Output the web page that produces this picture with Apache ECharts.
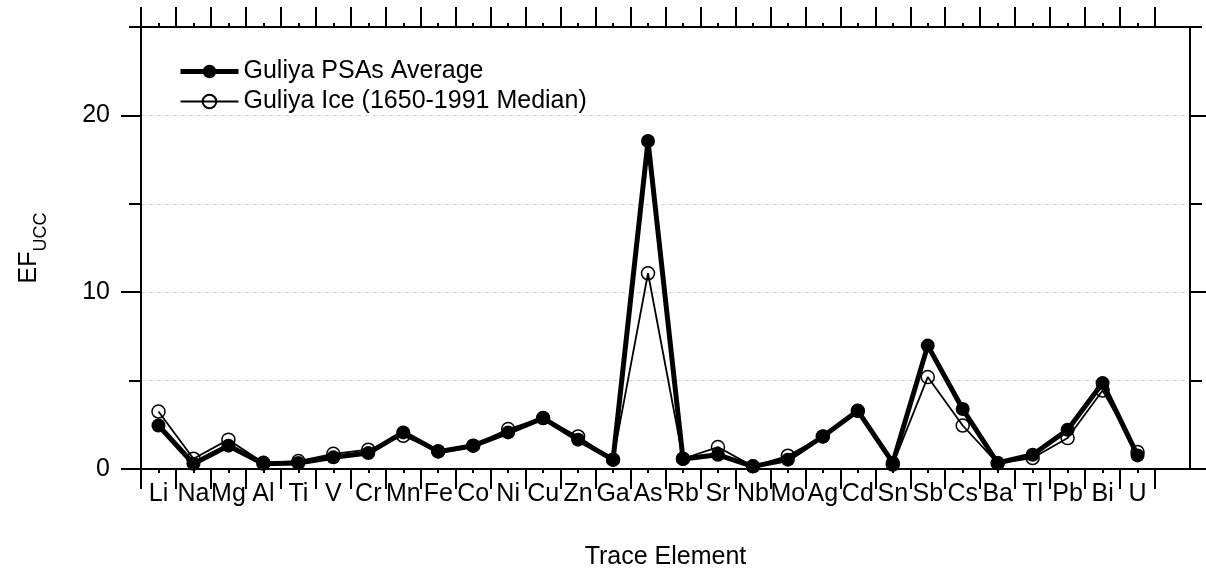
<!DOCTYPE html>
<html>
<head>
<meta charset="utf-8">
<title>Guliya EF_UCC</title>
<script src="https://cdn.jsdelivr.net/npm/echarts@6.0.0/dist/echarts.min.js"></script>
<style>
  html, body { margin: 0; padding: 0; background: #fff; }
  #chart { width: 1206px; height: 575px; }
</style>
</head>
<body>
<div id="chart"></div>
<script>
// 元素(類別)與兩組 EF 值,依圖上讀值估計
const elements = ['Li', 'Na', 'Mg', 'Al', 'Ti', 'V', 'Cr', 'Mn', 'Fe', 'Co', 'Ni', 'Cu', 'Zn', 'Ga', 'As',
  'Rb', 'Sr', 'Nb', 'Mo', 'Ag', 'Cd', 'Sn', 'Sb', 'Cs', 'Ba', 'Tl', 'Pb', 'Bi', 'U'];
const psasAverage = [2.46, 0.3, 1.32, 0.3, 0.34, 0.66, 0.9, 2.07, 0.98, 1.32, 2.07, 2.88, 1.66, 0.53, 18.55,
  0.56, 0.8, 0.15, 0.53, 1.84, 3.29, 0.36, 6.98, 3.39, 0.34, 0.81, 2.22, 4.86, 0.77];
const iceMedian = [3.25, 0.58, 1.66, 0.35, 0.45, 0.86, 1.09, 1.88, 1.0, 1.32, 2.26, 2.88, 1.84, 0.53, 11.07,
  0.58, 1.24, 0.15, 0.75, 1.84, 3.29, 0.25, 5.2, 2.46, 0.32, 0.62, 1.75, 4.44, 0.96];
const yMajorTicks = [0, 10, 20];
const yMinorTicks = [5, 15, 25];

const FONT = 'Liberation Sans, Arial, Helvetica, sans-serif';
const AXIS_LINE = { show: true, onZero: false, lineStyle: { color: '#000', width: 2 } };
const TICK_STYLE = { color: '#000', width: 2 };
const GRID_LINE = { show: true, lineStyle: { color: '#d4d4d4', width: 1, type: [4, 4] } };

// 類別中心 = 索引;邊界 = 索引 ± 0.5(長刻度)
const centers = elements.map((_, i) => i);
const bounds = [-0.5, ...elements.map((_, i) => i + 0.5)];

// x 軸:-0.5 ~ 29.5(右側留一格空白),長刻度在邊界,短刻度在中心
function xAxis(position, ticks, tickLen, withLabels) {
  return {
    type: 'value', position, min: -0.5, max: 29.5,
    axisLine: AXIS_LINE,
    axisTick: { show: true, customValues: ticks, length: tickLen, lineStyle: TICK_STYLE },
    splitLine: { show: false },
    axisLabel: withLabels ? {
      show: true, customValues: centers,
      formatter: (v) => elements[Math.round(v)] ?? '',
      color: '#000', fontSize: 25, fontFamily: FONT, margin: 13,
    } : { show: false },
    name: withLabels ? 'Trace Element' : '', nameLocation: 'middle', nameGap: 76,
    nameTextStyle: { color: '#000', fontSize: 25, fontFamily: FONT },
  };
}

function yAxis(position, ticks, tickLen, withLabels) {
  return {
    type: 'value', position, min: 0, max: 25,
    axisLine: AXIS_LINE,
    axisTick: { show: true, customValues: ticks, length: tickLen, lineStyle: TICK_STYLE },
    splitLine: position === 'left' ? GRID_LINE : { show: false },
    axisLabel: withLabels ? {
      show: true, customValues: ticks, color: '#000', fontSize: 25, fontFamily: FONT, margin: 31,
    } : { show: false },
    name: withLabels ? '{a|EF}{b|UCC}' : '', nameLocation: 'middle', nameGap: 95,
    nameTextStyle: {
      color: '#000', fontFamily: FONT,
      rich: {
        a: { fontSize: 25, lineHeight: 25, padding: [0, 0, 8, 0], color: '#000', fontFamily: FONT },
        b: { fontSize: 18, lineHeight: 18, padding: [15, 0, 0, 0], color: '#000', fontFamily: FONT },
      },
    },
  };
}

const chart = echarts.init(document.getElementById('chart'), null, { renderer: 'canvas' });
chart.setOption({
  animation: false,
  backgroundColor: '#fff',
  textStyle: { fontFamily: FONT },
  grid: { left: 141, right: 16, top: 27, bottom: 106, containLabel: false },
  legend: {
    orient: 'vertical', left: 173, top: 54, itemWidth: 58, itemHeight: 17, itemGap: 5,
    textStyle: { color: '#000', fontSize: 25, fontFamily: FONT },
    data: [
      { name: 'Guliya PSAs Average', lineStyle: { width: 5, color: '#000' } },
      { name: 'Guliya Ice (1650-1991 Median)', lineStyle: { width: 2, color: '#000' } },
    ],
  },
  xAxis: [
    xAxis('bottom', bounds, 20, false),
    xAxis('bottom', centers, 4, true),
    xAxis('top', bounds, 20, false),
    xAxis('top', centers, 4, false),
  ],
  yAxis: [
    yAxis('left', yMajorTicks, 20, true),
    yAxis('left', yMinorTicks, 12, false),
    yAxis('right', yMajorTicks, 20, false),
    yAxis('right', yMinorTicks, 12, false),
  ],
  series: [
    {
      name: 'Guliya PSAs Average', type: 'line',
      data: psasAverage.map((v, i) => [i, v]),
      symbol: 'circle', symbolSize: 14,
      lineStyle: { color: '#000', width: 5 },
      itemStyle: { color: '#000' },
      z: 3,
    },
    {
      name: 'Guliya Ice (1650-1991 Median)', type: 'line',
      data: iceMedian.map((v, i) => [i, v]),
      symbol: 'circle', symbolSize: 13,
      lineStyle: { color: '#000', width: 1.8 },
      itemStyle: { color: 'rgba(255,255,255,0)', borderColor: '#000', borderWidth: 1.5 },
      z: 4,
    },
  ],
});
</script>
</body>
</html>
